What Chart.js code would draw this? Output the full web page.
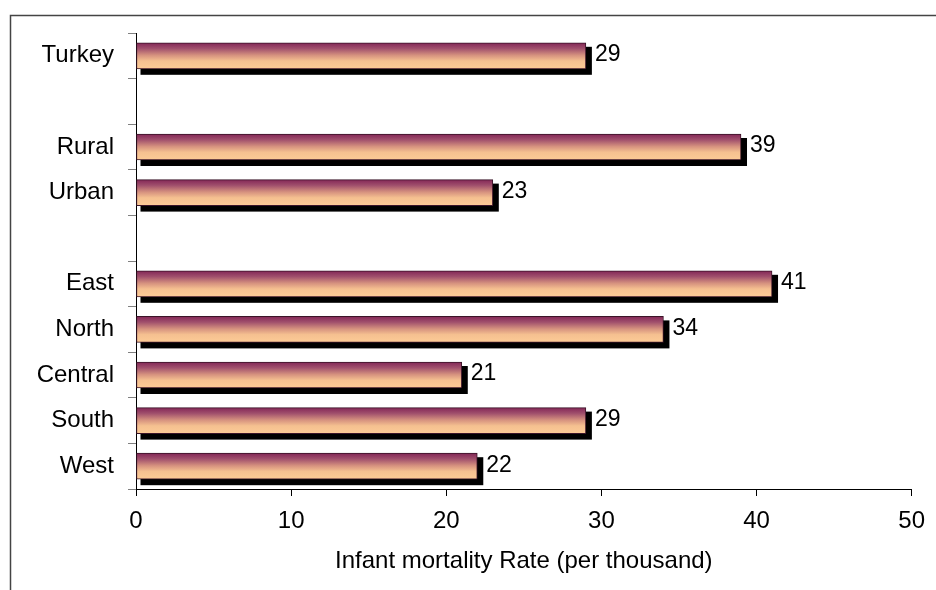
<!DOCTYPE html>
<html>
<head>
<meta charset="utf-8">
<script src="https://cdn.jsdelivr.net/npm/chart.js@4/dist/chart.umd.min.js"></script>
<style>
  html, body { margin: 0; padding: 0; background: #fff; }
  #wrap { width: 936px; height: 590px; position: relative; }
</style>
</head>
<body>
<div id="wrap"><canvas id="c" width="936" height="590"></canvas></div>
<script>
// Infant mortality by area, per thousand live births
const categories = ['Turkey', '', 'Rural', 'Urban', '', 'East', 'North', 'Central', 'South', 'West'];
const rates = [29, null, 39, 23, null, 41, 34, 21, 29, 22];
const xTickValues = [0, 10, 20, 30, 40, 50];
const axisTitle = 'Infant mortality Rate (per thousand)';

const FONT = '"Liberation Sans", Arial, sans-serif';
const BAR_H = 26;

// Vertical purple-to-peach fill for each bar
function barGradient(context) {
  const chart = context.chart;
  if (!chart.chartArea || context.dataIndex == null || !chart.scales.y) return '#f8c593';
  const yc = chart.scales.y.getPixelForValue(context.dataIndex);
  const g = chart.ctx.createLinearGradient(0, yc - BAR_H / 2, 0, yc + BAR_H / 2);
  g.addColorStop(0.00, '#822656');
  g.addColorStop(0.22, '#a04f6c');
  g.addColorStop(0.48, '#d6927f');
  g.addColorStop(0.70, '#f5c090');
  g.addColorStop(1.00, '#fccb96');
  return g;
}

// Outer frame (top and left edges)
const framePlugin = {
  id: 'frame',
  beforeDraw(chart) {
    const c = chart.ctx;
    c.save();
    c.fillStyle = '#fff';
    c.fillRect(0, 0, chart.width, chart.height);
    c.strokeStyle = '#444';
    c.lineWidth = 1.5;
    c.beginPath();
    c.moveTo(chart.width, 15.5);
    c.lineTo(10.5, 15.5);
    c.lineTo(10.5, chart.height);
    c.stroke();
    c.restore();
  }
};

// Solid black drop shadow behind each bar
const shadowPlugin = {
  id: 'barShadow',
  beforeDatasetsDraw(chart) {
    const c = chart.ctx;
    const meta = chart.getDatasetMeta(0);
    c.save();
    c.fillStyle = '#000';
    meta.data.forEach((el, i) => {
      if (rates[i] == null) return;
      const p = el.getProps(['x', 'y', 'base', 'height'], true);
      c.fillRect(p.base + 4, p.y - p.height / 2 + 4, p.x - p.base + 2, p.height + 2);
    });
    c.restore();
  }
};

// Value labels to the right of each bar
const valueLabelPlugin = {
  id: 'valueLabels',
  afterDatasetsDraw(chart) {
    const c = chart.ctx;
    const meta = chart.getDatasetMeta(0);
    c.save();
    c.font = '23px ' + FONT;
    c.fillStyle = '#000';
    c.textAlign = 'left';
    c.textBaseline = 'middle';
    meta.data.forEach((el, i) => {
      if (rates[i] == null) return;
      const p = el.getProps(['x', 'y'], true);
      c.fillText(String(rates[i]), p.x + 9, p.y - 1);
    });
    c.restore();
  }
};

new Chart(document.getElementById('c'), {
  type: 'bar',
  data: {
    labels: categories,
    datasets: [{
      data: rates,
      backgroundColor: barGradient,
      borderColor: '#3a1428',
      borderWidth: 1,
      borderSkipped: false,
      barThickness: BAR_H
    }]
  },
  options: {
    indexAxis: 'y',
    responsive: false,
    animation: false,
    layout: { padding: { top: 33, right: 22, bottom: 14, left: 0 } },
    plugins: { legend: { display: false }, tooltip: { enabled: false } },
    scales: {
      y: {
        type: 'category',
        offset: true,
        grid: { offset: true, drawOnChartArea: false, drawTicks: true, tickLength: 8, color: '#808080' },
        border: { display: true, color: '#000', width: 1 },
        ticks: { color: '#000', padding: 14, font: { family: FONT, size: 24 } },
        afterFit(scale) { scale.width = 136; }
      },
      x: {
        type: 'linear',
        min: 0,
        max: 50,
        afterBuildTicks(scale) { scale.ticks = xTickValues.map(v => ({ value: v })); },
        grid: { drawOnChartArea: false, drawTicks: true, tickLength: 7, color: '#000' },
        border: { display: true, color: '#000', width: 1 },
        ticks: { color: '#000', padding: 11, font: { family: FONT, size: 24 } },
        title: {
          display: true,
          text: axisTitle,
          color: '#000',
          font: { family: FONT, size: 24 },
          padding: { top: 0, bottom: 0 }
        },
        afterFit(scale) { scale.height = 87; }
      }
    }
  },
  plugins: [framePlugin, shadowPlugin, valueLabelPlugin]
});
</script>
</body>
</html>
